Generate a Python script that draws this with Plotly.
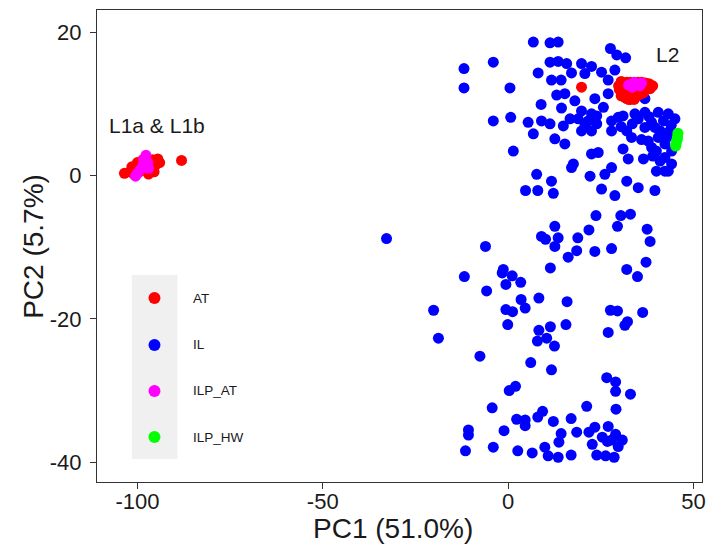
import plotly.graph_objects as go

# ---------------- data ----------------
il_x = [6.8, 11.3, 13.5, 27.6, 29.3, 31.7, -4.0, -11.9, -11.9, 0.5, 11.3, 13.5, 15.8, 19.8, 22.5,
        8.1, 11.7, 14.3, 17.1, 20.7, 25.2, 28.8, 27.0, 13.1, 15.3, 18.0, 23.4, 27.0, 8.9, 14.4,
        19.8, 22.5, 25.7, -4.0, 0.7, 5.4, 9.0, 11.3, 14.9, 16.7, 18.9, 21.6, 23.9, 19.8, 22.5,
        27.9, 31.0, 34.2, 36.9, 40.5, 43.2, 45.0, 27.9, 33.3, 36.9, 38.7, 37.8, 40.5, 42.3, 40.0,
        44.1, 6.8, 12.6, 15.3, 1.4, 22.5, 24.3, 31.0, 32.4, 36.5, 41.0, 17.6, 17.1, 27.9, 7.7,
        11.7, 22.1, 26.1, 32.0, 40.0, 42.3,
        29.7, 32.0, 35.1, 39.6, 41.9, 43.6, 38.7, 42.3, 44.1, 43.2, 41.0, 42.8, 20.7, 23.9,
        33.5, 36.0, 39.0, 43.5, 44.0, 38.0, 30.5, 36.9,
        12.2, 4.7, 8.0, 25.2, 28.8, 35.1, 39.6, -32.8, -6.1, 12.6, 9.0, 10.1, 13.5, 12.6, 18.8,
        18.5, 16.2, 21.8, 23.7, 23.4, 27.9, 29.5, 30.4, 33.0, 37.5, 38.3, 37.2, 32.0, 34.9, 11.4,
        -11.8, -1.3, -1.6, 1.1, -0.6, 3.4, -5.8, 3.5, 8.3, 15.9, -20.1, -0.6, 1.2, 4.6, 27.6,
        29.5, 36.3, 32.2, -0.1, 11.4, 15.6,
        8.3, 7.9, 10.4, 12.5, 27.0, 31.5, -18.8, -7.6, 6.1, 11.7, 26.6, 29.0, 29.0, 33.0, 0.3,
        2.0, -4.3, 21.2, 29.1, 2.3, 4.6, 4.6, 8.0, 9.3, 12.2, 17.0, -10.7, -10.7, -1.1, 14.3,
        13.7, 18.5, 21.8, 23.4, 27.0, 25.4, 27.9, 29.0, 30.8, 29.7, 22.7, -11.5, -4.0, 2.6, 6.5,
        9.9, 10.8, 13.5, 17.0, 23.9, 26.3, 28.6, 26.8]
il_y = [18.6, 18.5, 18.6, 17.7, 16.8, 16.4, 15.8, 14.9, 12.2, 12.2, 15.8, 15.9, 15.6, 15.6, 15.2,
        14.3, 13.3, 13.3, 14.3, 14.2, 14.4, 14.7, 13.3, 11.2, 11.4, 10.4, 10.7, 11.4, 9.9, 9.4,
        9.0, 8.6, 9.5, 7.6, 8.1, 7.4, 7.6, 7.2, 6.9, 7.9, 7.9, 7.6, 7.2, 6.2, 6.2,
        7.6, 8.3, 8.6, 8.8, 8.8, 8.6, 7.9, 6.2, 5.3, 6.7, 7.4, 4.8, 5.3, 4.4, 3.4,
        3.4, 5.8, 5.1, 4.4, 3.4, 3.0, 3.2, 3.7, 2.3, 2.3, 2.0, 1.6, 1.1, 1.1, 0.15,
        -0.8, -0.1, 0.15, -0.8, 0.6, 0.6,
        8.1, 6.2, 7.9, 6.7, 7.6, 6.2, 3.9, 2.5, 1.6, 0.6, 6.2, 5.3, 6.9, 8.3,
        7.2, 5.0, 2.7, 5.8, 7.0, 8.2, 6.8, 10.7,
        -2.5, -2.1, -2.1, -1.9, -2.8, -1.7, -2.1, -8.8, -9.9, -7.1, -8.5, -8.9, -8.7, -9.9, -8.7,
        -10.5, -11.4, -7.6, -5.6, -10.6, -10.2, -7.1, -5.6, -5.4, -7.5, -9.2, -12.1, -13.1, -14.1, -12.9,
        -14.1, -13.1, -13.6, -14.0, -15.2, -14.9, -16.1, -17.3, -17.1, -17.6, -18.8, -18.7, -19.0, -18.5, -18.8,
        -18.9, -19.1, -20.4, -20.8, -21.1, -20.8,
        -21.6, -23.1, -22.7, -23.8, -21.9, -20.9, -22.7, -25.2, -26.1, -27.1, -28.2, -28.8, -30.1, -30.5, -30.0,
        -29.4, -32.4, -32.2, -32.6, -34.0, -34.1, -34.9, -33.7, -32.9, -34.3, -33.9, -35.5, -36.2, -35.6, -36.0,
        -37.2, -35.8, -35.8, -35.1, -35.0, -36.5, -36.9, -36.1, -36.9, -37.8, -37.5, -38.4, -37.9, -38.4, -38.7,
        -37.9, -39.1, -39.3, -39.0, -39.0, -39.1, -39.3, -37.1]

at_x = [-103.5, -102.0, -101.0, -100.5, -99.5, -99.0, -98.0, -97.5, -96.5, -96.0, -95.0, -94.5,
        -94.0, -95.5, -97.0, -101.5, -100.0, -98.5, -88.1,
        19.8,
        29.8, 30.5, 31.5, 32.0, 33.0, 34.0, 35.0, 36.0, 37.0, 38.0, 39.0, 38.3, 37.5, 36.0, 35.0,
        34.0, 33.0, 32.0, 31.0, 30.5, 31.5, 32.5, 33.5, 34.5, 35.5, 36.5, 33.0, 32.0, 34.0, 30.0]
at_y = [0.3, 0.5, 0.2, 1.0, 0.5, 1.5, 0.8, 1.8, 1.2, 2.2, 1.5, 2.3,
        1.8, 0.5, 0.2, 1.2, 1.8, 2.2, 2.1,
        12.3,
        12.5, 13.1, 12.8, 13.0, 13.0, 12.9, 13.0, 13.0, 12.9, 12.8, 12.5, 12.1, 12.3, 12.4, 12.0,
        12.2, 11.8, 12.0, 11.5, 11.1, 10.9, 10.6, 10.8, 11.0, 11.3, 11.5, 10.6, 10.7, 10.6, 12.0]

ilp_at_x = [-97.7, -98.3, -97.2, -98.5, -99.2, -100.0, -100.5, -97.0,
            32.5, 33.5, 34.5, 35.5, 36.0, 34.0]
ilp_at_y = [2.8, 2.2, 1.8, 1.3, 0.8, 0.3, -0.1, 1.0,
            12.6, 12.3, 12.8, 12.5, 12.9, 13.0]

ilp_hw_x = [45.8, 45.7, 45.5, 45.3, 45.2, 45.6]
ilp_hw_y = [5.9, 5.4, 4.9, 4.4, 4.1, 5.0]

groups = ["AT", "IL", "ILP_AT", "ILP_HW"]
colors = {"AT": "#FF0000", "IL": "#0000FF", "ILP_AT": "#FF00FF", "ILP_HW": "#00FF00"}

x_ticks = [-100, -50, 0, 50]
y_ticks = [-40, -20, 0, 20]

labels = [("L1a & L1b", -94.7, 6.9), ("L2", 43.0, 16.9)]

# legend key positions (axis fraction of the hidden legend axes)
leg_key_x = [0.095, 0.095, 0.095, 0.095]
leg_key_y = [0.3898, 0.2903, 0.1928, 0.0953]

# ---------------- figure ----------------
fig = go.Figure()
msize = 11
fig.add_trace(go.Scatter(x=il_x, y=il_y, mode="markers",
                         marker=dict(color=colors["IL"], size=msize, line=dict(width=0)),
                         showlegend=False))
fig.add_trace(go.Scatter(x=at_x, y=at_y, mode="markers",
                         marker=dict(color=colors["AT"], size=msize, line=dict(width=0)),
                         showlegend=False))
fig.add_trace(go.Scatter(x=ilp_at_x, y=ilp_at_y, mode="markers",
                         marker=dict(color=colors["ILP_AT"], size=msize, line=dict(width=0)),
                         showlegend=False))
fig.add_trace(go.Scatter(x=ilp_hw_x, y=ilp_hw_y, mode="markers",
                         marker=dict(color=colors["ILP_HW"], size=msize, line=dict(width=0)),
                         showlegend=False))

# custom legend
fig.add_trace(go.Scatter(x=leg_key_x, y=leg_key_y, mode="markers",
                         marker=dict(color=[colors[g] for g in groups], size=12, line=dict(width=0)),
                         xaxis="x2", yaxis="y2", showlegend=False, hoverinfo="skip"))

FONT = "Liberation Sans, Arial, sans-serif"
annotations = []
for g, yk in zip(groups, leg_key_y):
    annotations.append(dict(text=g, x=0.156, y=yk, xref="paper", yref="paper",
                            xanchor="left", yanchor="middle", showarrow=False,
                            font=dict(size=13.5, color="#1a1a1a", family=FONT)))
for txt, lx, ly in labels:
    annotations.append(dict(text=txt, x=lx, y=ly, xref="x", yref="y", showarrow=False,
                            xanchor="center", yanchor="middle",
                            font=dict(size=21, color="#1a1a1a", family=FONT)))
# axis titles
annotations.append(dict(text="PC1 (51.0%)", x=0.49, y=-0.099, xref="paper", yref="paper",
                        showarrow=False, xanchor="center", yanchor="middle",
                        font=dict(size=28, color="#1a1a1a", family=FONT)))
annotations.append(dict(text="PC2 (5.7%)", x=-0.106, y=0.5, xref="paper", yref="paper",
                        showarrow=False, xanchor="center", yanchor="middle", textangle=-90,
                        font=dict(size=28, color="#1a1a1a", family=FONT)))

fig.update_layout(
    width=710, height=554,
    margin=dict(l=97, r=4, t=10, b=72),
    plot_bgcolor="white", paper_bgcolor="white",
    font=dict(family=FONT, color="#1a1a1a"),
    xaxis=dict(range=[-110.9, 52.3], tickvals=x_ticks, ticktext=[str(v) for v in x_ticks],
               showgrid=False, zeroline=False, showline=True, linecolor="#333333", linewidth=1.3,
               mirror=True, ticks="outside", ticklen=6, tickwidth=1.3, tickcolor="#333333",
               tickfont=dict(size=22, color="#1a1a1a"), ticklabelstandoff=-7),
    yaxis=dict(range=[-42.75, 23.07], tickvals=y_ticks, ticktext=[str(v) for v in y_ticks],
               showgrid=False, zeroline=False, showline=True, linecolor="#333333", linewidth=1.3,
               mirror=True, ticks="outside", ticklen=6, tickwidth=1.3, tickcolor="#333333",
               tickfont=dict(size=22, color="#1a1a1a"), ticklabelstandoff=4),
    xaxis2=dict(range=[0, 1], overlaying="x", visible=False, fixedrange=True),
    yaxis2=dict(range=[0, 1], overlaying="y", visible=False, fixedrange=True),
    shapes=[dict(type="rect", xref="paper", yref="paper", x0=0.0575, x1=0.133,
                 y0=0.0487, y1=0.4386, fillcolor="#F0F0F0", line=dict(width=0), layer="below")],
    annotations=annotations,
)

fig.write_html("out.html", config={"displayModeBar": False},
               post_script="document.body.style.margin='0';document.body.style.padding='0';")
